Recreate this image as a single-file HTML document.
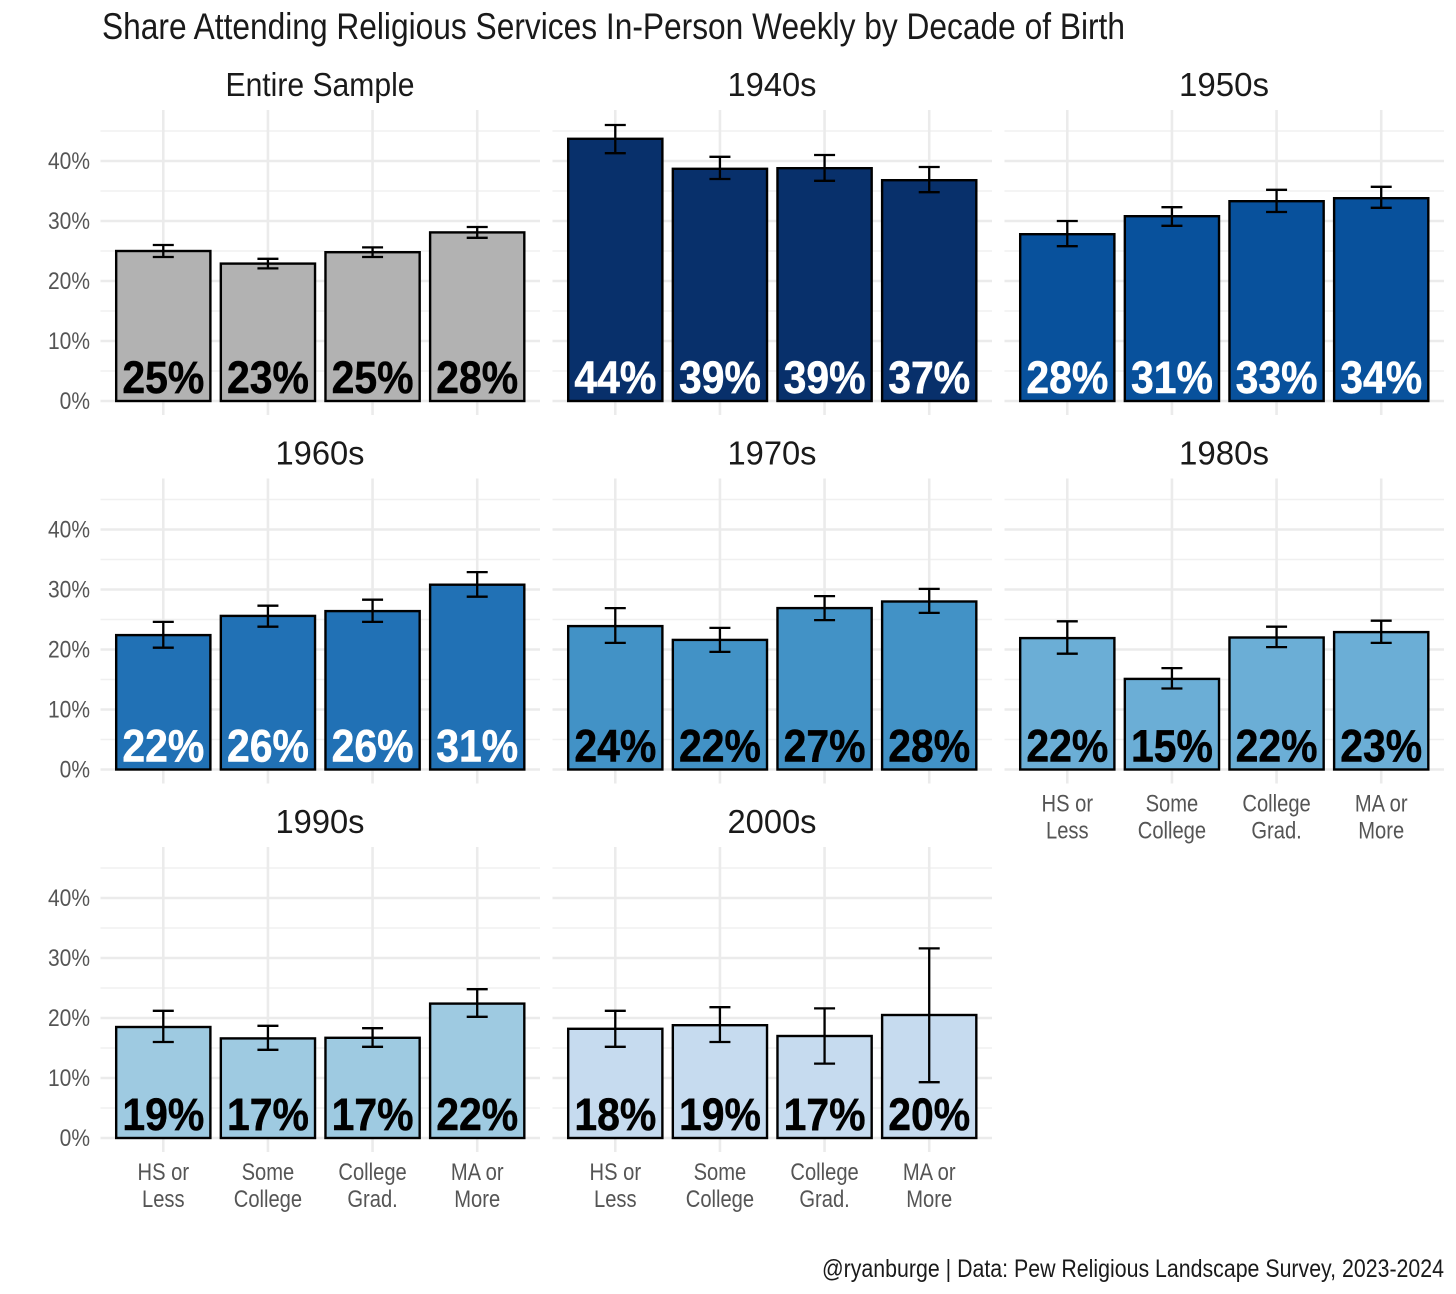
<!DOCTYPE html>
<html lang="en">
<head>
<meta charset="utf-8">
<title>Share Attending Religious Services In-Person Weekly by Decade of Birth</title>
<style>
html,body{margin:0;padding:0;background:#fff;width:1456px;height:1294px;overflow:hidden}
svg{display:block}
text{font-family:"Liberation Sans",sans-serif}
</style>
</head>
<body>
<svg id="chart" xmlns="http://www.w3.org/2000/svg" width="1456" height="1294" viewBox="0 0 1456 1294">
<rect width="1456" height="1294" fill="#fff"/>
<text x="102" y="39" font-size="37" fill="#1a1a1a" textLength="1023" lengthAdjust="spacingAndGlyphs">Share Attending Religious Services In-Person Weekly by Decade of Birth</text>
<text x="822" y="1277" font-size="25" fill="#1a1a1a" textLength="622" lengthAdjust="spacingAndGlyphs">@ryanburge | Data: Pew Religious Landscape Survey, 2023-2024</text>
</svg>
<script>
const panelTitles = ["Entire Sample", "1940s", "1950s", "1960s", "1970s", "1980s", "1990s", "2000s"];
const panelTitleWidths = [189, 89, 90, 89, 89, 90, 89, 89];
const panelFills = ["#b2b2b2", "#08306b", "#08519c", "#2171b5", "#4292c6", "#6baed6", "#9ecae1", "#c6dbef"];
const labelFills = ["#000", "#fff", "#fff", "#fff", "#000", "#000", "#000", "#000"];
const categories = [["HS or", "Less"], ["Some", "College"], ["College", "Grad."], ["MA or", "More"]];
const yTicks = [0, 10, 20, 30, 40];
const yMinorTicks = [5, 15, 25, 35, 45];
const values = [
  [25.0, 22.9, 24.8, 28.1],
  [43.7, 38.7, 38.8, 36.8],
  [27.8, 30.8, 33.3, 33.8],
  [22.4, 25.6, 26.4, 30.8],
  [23.9, 21.6, 26.9, 28.0],
  [21.9, 15.1, 22.0, 22.9],
  [18.5, 16.6, 16.7, 22.4],
  [18.2, 18.8, 17.0, 20.5]
];
const lows = [
  [24.0, 22.1, 24.0, 27.2],
  [41.3, 37.0, 36.7, 34.8],
  [25.8, 29.2, 31.5, 32.2],
  [20.3, 23.8, 24.6, 28.8],
  [21.1, 19.6, 24.9, 26.1],
  [19.3, 13.5, 20.4, 21.1],
  [16.0, 14.7, 15.2, 20.2],
  [15.2, 16.0, 12.4, 9.3]
];
const highs = [
  [26.0, 23.7, 25.6, 29.0],
  [46.0, 40.7, 41.0, 39.0],
  [30.0, 32.3, 35.2, 35.7],
  [24.6, 27.3, 28.3, 32.9],
  [26.9, 23.6, 28.9, 30.1],
  [24.7, 16.9, 23.8, 24.8],
  [21.2, 18.7, 18.3, 24.8],
  [21.2, 21.8, 21.6, 31.6]
];
const printedLabels = [
  ["25%", "23%", "25%", "28%"],
  ["44%", "39%", "39%", "37%"],
  ["28%", "31%", "33%", "34%"],
  ["22%", "26%", "26%", "31%"],
  ["24%", "22%", "27%", "28%"],
  ["22%", "15%", "22%", "23%"],
  ["19%", "17%", "17%", "22%"],
  ["18%", "19%", "17%", "20%"]
];
const panelsWithXLabels = [5, 6, 7];

const svgNS = "http://www.w3.org/2000/svg";
const root = document.getElementById("chart");
const COLS = 3;

function panelLeft(p) { return 100.5 + (p % COLS) * 452; }
function panelZero(p) { return 401 + Math.floor(p / COLS) * 368.5; }
function xScale(p, i) { return panelLeft(p) + 439.5 * (0.6 + i) / 4.2; }
function yScale(p, v) { return panelZero(p) - v * 6; }

function shape(parent, tag, attrs) {
  const el = document.createElementNS(svgNS, tag);
  for (const k in attrs) el.setAttribute(k, attrs[k]);
  parent.appendChild(el);
  return el;
}
function label(parent, str, x, y, size, sx, anchor, fill, weight) {
  const el = document.createElementNS(svgNS, "text");
  el.setAttribute("transform", "translate(" + x + "," + y + ") scale(" + sx + ",1)");
  el.setAttribute("font-size", size);
  el.setAttribute("text-anchor", anchor);
  el.setAttribute("fill", fill);
  if (weight) el.setAttribute("font-weight", weight);
  el.textContent = str;
  parent.appendChild(el);
  return el;
}

panelTitles.forEach(function (title, p) {
  const g = shape(root, "g", {});
  
  

  const left = panelLeft(p);
  const right = left + 439.5;
  const zero = panelZero(p);
  const top = zero - 291;
  const bottom = zero + 14;

  yMinorTicks.forEach(function (t) {
    const line = shape(g, "line", { x1: left, x2: right, y1: yScale(p, t), y2: yScale(p, t), stroke: "#f0f0f0", "stroke-width": 1.6 });
    
    
  });
  yTicks.forEach(function (t) {
    const line = shape(g, "line", { x1: left, x2: right, y1: yScale(p, t), y2: yScale(p, t), stroke: "#ebebeb", "stroke-width": 2.6 });
    
    
  });
  categories.forEach(function (c, i) {
    const line = shape(g, "line", { x1: xScale(p, i), x2: xScale(p, i), y1: top, y2: bottom, stroke: "#ebebeb", "stroke-width": 2.6 });
    
    
  });

  const heading = label(g, title, left + 219.5, zero - 305, 33, 1, "middle", "#1a1a1a");
  
  
  heading.setAttribute("textLength", panelTitleWidths[p]);
  heading.setAttribute("lengthAdjust", "spacingAndGlyphs");

  if (p % COLS === 0) {
    yTicks.forEach(function (t) {
      const tick = label(g, t + "%", 90, yScale(p, t) + 8, 24, 0.875, "end", "#555");
      
      
    });
  }

  values[p].forEach(function (v, i) {
    const cx = xScale(p, i);
    const bar = shape(g, "rect", {
      x: cx - 47.1, width: 94.2, y: yScale(p, v), height: zero - yScale(p, v),
      fill: panelFills[p], stroke: "#000", "stroke-width": 2.4
    });
    
    
  });

  values[p].forEach(function (v, i) {
    const cx = xScale(p, i);
    const yHi = yScale(p, highs[p][i]);
    const yLo = yScale(p, lows[p][i]);
    const err = shape(g, "path", {
      d: "M" + (cx - 10.5) + " " + yHi + "H" + (cx + 10.5) + "M" + cx + " " + yHi + "V" + yLo + "M" + (cx - 10.5) + " " + yLo + "H" + (cx + 10.5),
      fill: "none", stroke: "#000", "stroke-width": 2.3
    });
    
    

    const val = label(g, printedLabels[p][i], cx, zero - 8, 45, 0.91, "middle", labelFills[p], "700");
    
    
    val.setAttribute("stroke", labelFills[p]);
    val.setAttribute("stroke-width", "0.5");
  });

  if (panelsWithXLabels.indexOf(p) >= 0) {
    categories.forEach(function (c, i) {
      c.forEach(function (lineText, k) {
        const cat = label(g, lineText, xScale(p, i), zero + 42 + k * 27, 24, 0.84, "middle", "#555");
        
        
      });
    });
  }
});
</script>
</body>
</html>
